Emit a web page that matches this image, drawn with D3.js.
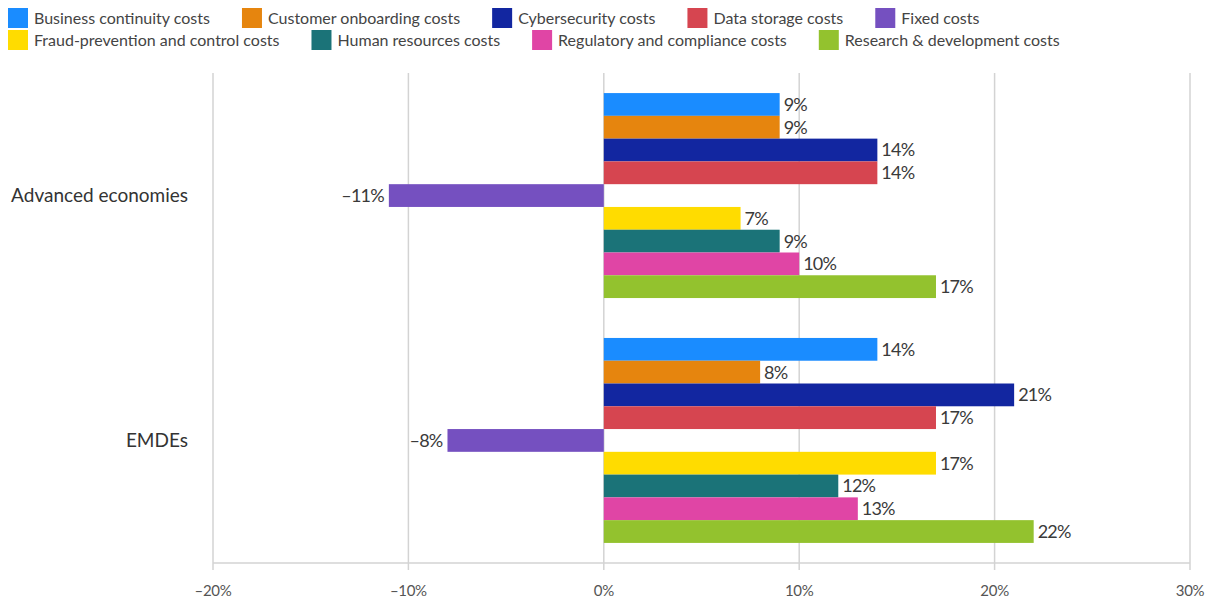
<!DOCTYPE html>
<html><head><meta charset="utf-8">
<script src="https://cdn.jsdelivr.net/npm/d3@7"></script>
<style>body{margin:0;background:#fff;} svg{display:block;font-family:Lato,"Noto Sans",sans-serif;}</style>
</head><body><svg id="c" width="1214" height="603"></svg>
<script>
const categories = ["Advanced economies", "EMDEs"];
const seriesNames = ["Business continuity costs","Customer onboarding costs","Cybersecurity costs","Data storage costs","Fixed costs","Fraud-prevention and control costs","Human resources costs","Regulatory and compliance costs","Research & development costs"];
const seriesColors = ["#1a8cff","#e6850e","#1226a0","#d64550","#7550c0","#ffdc00","#1b7378","#e045a5","#93c22e"];
const advancedValues = [9, 9, 14, 14, -11, 7, 9, 10, 17];
const emdeValues = [14, 8, 21, 17, -8, 17, 12, 13, 22];
const xTicks = [-20, -10, 0, 10, 20, 30];
const valuesByCat = [advancedValues, emdeValues];

const svg = d3.select("#c");
const x = d3.scaleLinear().domain([-20, 30]).range([213, 1190]);
const y0 = d3.scaleBand().domain(categories).range([73, 563]).paddingInner(0.163).paddingOuter(0.082);
const y1 = d3.scaleBand().domain(seriesNames).range([0, y0.bandwidth()]).padding(0);
const fmt = v => (v < 0 ? "\u2013" + Math.abs(v) : v) + "%";

// gridlines
svg.append("g").selectAll("line").data(xTicks).join("line")
  .attr("x1", d => x(d)).attr("x2", d => x(d)).attr("y1", 73).attr("y2", 570)
  .attr("stroke", "#d3d3d3").attr("stroke-width", 1.5);
// axis line
svg.append("line").attr("x1", x(-20)).attr("x2", x(30)).attr("y1", 563).attr("y2", 563)
  .attr("stroke", "#d3d3d3").attr("stroke-width", 1.5);
// tick labels
svg.append("g").selectAll("text").data(xTicks).join("text")
  .attr("x", d => x(d)).attr("y", 596).attr("text-anchor", "middle")
  .attr("font-size", 15).attr("fill", "#555").attr("letter-spacing", -0.3).text(d => fmt(d));

// category labels
svg.append("g").selectAll("text").data(categories).join("text")
  .attr("x", 188).attr("y", d => y0(d) + y0.bandwidth() / 2).attr("dy", "0.35em")
  .attr("text-anchor", "end").attr("font-size", 19).attr("fill", "#333").text(d => d);

// bars
categories.forEach((cat, ci) => {
  const g = svg.append("g").attr("transform", `translate(0,${y0(cat)})`);
  const data = seriesNames.map((s, i) => ({s, v: valuesByCat[ci][i], c: seriesColors[i]}));
  g.selectAll("rect").data(data).join("rect")
    .attr("x", d => x(Math.min(0, d.v))).attr("width", d => Math.abs(x(d.v) - x(0)))
    .attr("y", d => y1(d.s)).attr("height", y1.bandwidth()).attr("fill", d => d.c);
  g.selectAll("text").data(data).join("text")
    .attr("x", d => d.v < 0 ? x(d.v) - 5 : x(d.v) + 4)
    .attr("y", d => y1(d.s) + y1.bandwidth() / 2).attr("dy", "0.36em")
    .attr("text-anchor", d => d.v < 0 ? "end" : "start")
    .attr("font-size", 18).attr("letter-spacing", -0.8).attr("fill", "#3a3a3a").text(d => fmt(d.v));
});

// legend (two rows, flow)
const rows = [seriesNames.slice(0, 5), seriesNames.slice(5)];
rows.forEach((row, ri) => {
  let cx = 8;
  const yy = 8 + ri * 22;
  row.forEach(name => {
    const i = seriesNames.indexOf(name);
    svg.append("rect").attr("x", cx).attr("y", yy).attr("width", 20).attr("height", 20).attr("fill", seriesColors[i]);
    const t = svg.append("text").attr("x", cx + 26).attr("y", yy + 10).attr("dy", "0.35em")
      .attr("font-size", 16).attr("fill", "#444").text(name);
    cx += 26 + t.node().getComputedTextLength() + 32;
  });
});
</script></body></html>
